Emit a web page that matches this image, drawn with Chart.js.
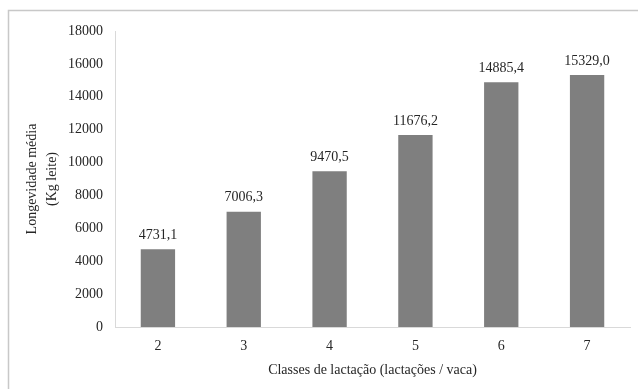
<!DOCTYPE html>
<html>
<head>
<meta charset="utf-8">
<script src="https://cdn.jsdelivr.net/npm/chart.js@4.4.1/dist/chart.umd.min.js"></script>
<style>
  html, body { margin: 0; padding: 0; background: #fff; }
  #wrap { width: 638px; height: 389px; position: relative; }
</style>
</head>
<body>
<div id="wrap"><canvas id="myChart" width="638" height="389"></canvas></div>
<script>
const classes = ['2', '3', '4', '5', '6', '7'];
const longevity = [4731.1, 7006.3, 9470.5, 11676.2, 14885.4, 15329.0];
const yTicks = [0, 2000, 4000, 6000, 8000, 10000, 12000, 14000, 16000, 18000];

const textColor = '#262626';
const fontFamily = '"Liberation Serif", "Times New Roman", serif';

// frame around the whole chart, like the spreadsheet chart area
const framePlugin = {
    id: 'frame',
    beforeDraw(chart) {
        const ctx = chart.ctx;
        ctx.save();
        ctx.strokeStyle = '#c8c8c8';
        ctx.lineWidth = 1.5;
        ctx.strokeRect(8.5, 10.5, 700, 500);
        ctx.restore();
    }
};

// value labels above each bar (comma as decimal separator)
const valueLabels = {
    id: 'valueLabels',
    afterDatasetsDraw(chart) {
        const ctx = chart.ctx;
        const meta = chart.getDatasetMeta(0);
        ctx.save();
        ctx.fillStyle = textColor;
        ctx.font = '14px ' + fontFamily;
        ctx.textAlign = 'center';
        ctx.textBaseline = 'middle';
        meta.data.forEach((bar, i) => {
            const txt = longevity[i].toFixed(1).replace('.', ',');
            ctx.fillText(txt, bar.x, bar.y - 14);
        });
        ctx.restore();
    }
};

const ctx = document.getElementById('myChart');
new Chart(ctx, {
    type: 'bar',
    data: {
        labels: classes,
        datasets: [{
            data: longevity,
            backgroundColor: '#7f7f7f',
            borderWidth: 0,
            categoryPercentage: 1.0,
            barPercentage: 0.4
        }]
    },
    options: {
        responsive: false,
        animation: false,
        layout: { padding: { top: 31, right: 8, left: 0, bottom: 10 } },
        plugins: {
            legend: { display: false },
            tooltip: { enabled: false }
        },
        scales: {
            x: {
                grid: { display: false, drawTicks: false },
                border: { display: true, color: '#d9d9d9', width: 1 },
                ticks: { color: textColor, font: { family: fontFamily, size: 14 }, padding: 11 },
                title: {
                    display: true,
                    text: 'Classes de lactação (lactações / vaca)',
                    color: textColor,
                    font: { family: fontFamily, size: 14 },
                    padding: { top: 3, bottom: 0 }
                },
                afterFit(scale) { scale.height = 389 - 327 - 10; }
            },
            y: {
                min: 0,
                max: 18000,
                afterBuildTicks(scale) { scale.ticks = yTicks.map(v => ({ value: v })); },
                grid: { display: false, drawTicks: false },
                border: { display: true, color: '#d9d9d9', width: 1 },
                ticks: {
                    color: textColor,
                    font: { family: fontFamily, size: 14 },
                    padding: 12,
                    callback: (v) => String(v)
                },
                title: {
                    display: true,
                    text: ['Longevidade média', '(Kg leite)'],
                    color: textColor,
                    font: { family: fontFamily, size: 14, lineHeight: 1.45 },
                    padding: { top: 22, bottom: 0 }
                },
                afterFit(scale) { scale.width = 115; }
            }
        }
    },
    plugins: [framePlugin, valueLabels]
});
</script>
</body>
</html>
